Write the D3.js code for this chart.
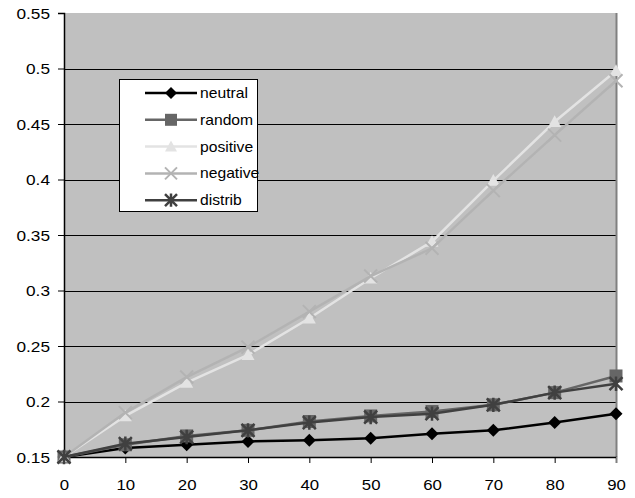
<!DOCTYPE html>
<html>
<head>
<meta charset="utf-8">
<script src="https://cdn.jsdelivr.net/npm/d3@7"></script>
<style>
  body { margin: 0; background: #fff; }
  svg text { font-family: "Liberation Sans", Arial, sans-serif; fill: #000; }
</style>
</head>
<body>
<svg id="chart" width="635" height="498"></svg>
<script>
const xValues = [0, 10, 20, 30, 40, 50, 60, 70, 80, 90];
const yTicks = [0.15, 0.2, 0.25, 0.3, 0.35, 0.4, 0.45, 0.5, 0.55];

const neutral = [0.15, 0.158, 0.161, 0.164, 0.165, 0.167, 0.171, 0.174, 0.181, 0.189];
const random = [0.15, 0.161, 0.169, 0.174, 0.182, 0.187, 0.191, 0.197, 0.208, 0.223];
const positive = [0.15, 0.187, 0.217, 0.242, 0.275, 0.311, 0.344, 0.399, 0.452, 0.498];
const negative = [0.15, 0.19, 0.222, 0.249, 0.281, 0.313, 0.338, 0.39, 0.44, 0.489];
const distrib = [0.15, 0.162, 0.168, 0.174, 0.181, 0.186, 0.189, 0.197, 0.208, 0.216];

const seriesNames = ["neutral", "random", "positive", "negative", "distrib"];
const seriesData = [neutral, random, positive, negative, distrib];
const seriesColors = ["#000000", "#666666", "#e3e3e3", "#b3b3b3", "#404040"];
const seriesMarkers = ["diamond", "square", "triangle", "cross", "star"];

const svg = d3.select("#chart");
const plotLeft = 64, plotRight = 616, plotTop = 13, plotBottom = 457;

const x = d3.scaleLinear().domain([0, 90]).range([plotLeft, plotRight]);
const y = d3.scaleLinear().domain([0.15, 0.55]).range([plotBottom, plotTop]);

// plot area
svg.append("rect")
  .attr("x", plotLeft).attr("y", plotTop)
  .attr("width", plotRight - plotLeft).attr("height", plotBottom - plotTop)
  .attr("fill", "#c0c0c0");

// gridlines
svg.append("g").selectAll("line")
  .data(yTicks.filter((d) => d > 0.15 && d < 0.55))
  .enter().append("line")
  .attr("x1", plotLeft).attr("x2", plotRight)
  .attr("y1", (d) => Math.round(y(d)) + 0.5).attr("y2", (d) => Math.round(y(d)) + 0.5)
  .attr("stroke", "#000").attr("stroke-width", 1);

// right border
svg.append("line")
  .attr("x1", plotRight + 0.5).attr("x2", plotRight + 0.5)
  .attr("y1", plotTop).attr("y2", plotBottom)
  .attr("stroke", "#808080").attr("stroke-width", 2);

// axes
const yAxis = d3.axisLeft(y).tickValues(yTicks).tickSize(6).tickFormat((d) => String(+d.toFixed(2)));
const xAxis = d3.axisBottom(x).tickValues(xValues).tickSize(6).tickFormat((d) => d);

const gy = svg.append("g").attr("transform", `translate(${plotLeft},0)`).call(yAxis);
const gx = svg.append("g").attr("transform", `translate(0,${plotBottom})`).call(xAxis);
[gy, gx].forEach((g) => {
  g.select(".domain").attr("stroke", "#000").attr("stroke-width", 1.5);
  g.selectAll(".tick line").attr("stroke", "#000");
  g.selectAll("text").attr("font-size", 15).attr("fill", "#000");
});
gx.select(".tick:last-of-type line").attr("stroke", "#808080");
gy.selectAll(".tick text")
  .attr("x", 0).attr("dy", "0.35em")
  .attr("transform", "translate(-14,0) scale(1.15,1)");
gx.selectAll(".tick text")
  .attr("y", 0).attr("dy", 0)
  .attr("transform", "translate(0,33) scale(1.12,1)");

// markers
const markerPath = (type, s) => {
  const p = d3.path();
  if (type === "diamond") {
    p.moveTo(0, -s); p.lineTo(s, 0); p.lineTo(0, s); p.lineTo(-s, 0); p.closePath();
  } else if (type === "square") {
    p.rect(-s, -s, s * 2, s * 2);
  } else if (type === "triangle") {
    p.moveTo(0, -s); p.lineTo(s, s * 0.8); p.lineTo(-s, s * 0.8); p.closePath();
  }
  return p.toString();
};

const drawMarker = (g, type, color, cx, cy, s) => {
  const m = g.append("g").attr("transform", `translate(${cx},${cy})`);
  if (type === "cross") {
    m.append("path").attr("d", `M${-s},${-s}L${s},${s}M${-s},${s}L${s},${-s}`)
      .attr("stroke", color).attr("stroke-width", 2).attr("fill", "none");
  } else if (type === "star") {
    m.append("path")
      .attr("d", `M${-s},${-s}L${s},${s}M${-s},${s}L${s},${-s}M0,${-s * 1.1}L0,${s * 1.1}`)
      .attr("stroke", color).attr("stroke-width", 2.5).attr("fill", "none");
  } else {
    m.append("path").attr("d", markerPath(type, s)).attr("fill", color);
  }
};

const line = d3.line().x((d, i) => x(xValues[i])).y((d) => y(d));

seriesData.forEach((values, k) => {
  const g = svg.append("g");
  g.append("path").datum(values)
    .attr("d", line)
    .attr("fill", "none")
    .attr("stroke", seriesColors[k])
    .attr("stroke-width", 2.5);
  values.forEach((v, i) => drawMarker(g, seriesMarkers[k], seriesColors[k], x(xValues[i]), y(v), 6.5));
});

// legend
const legend = svg.append("g");
legend.append("rect")
  .attr("x", 119.5).attr("y", 79.5).attr("width", 138).attr("height", 132)
  .attr("fill", "#fff").attr("stroke", "#000").attr("stroke-width", 1);

seriesNames.forEach((name, k) => {
  const ly = 93 + k * 26.8;
  legend.append("line")
    .attr("x1", 145).attr("x2", 197).attr("y1", ly).attr("y2", ly)
    .attr("stroke", seriesColors[k]).attr("stroke-width", 2.5);
  drawMarker(legend, seriesMarkers[k], seriesColors[k], 171, ly, 6);
  legend.append("text")
    .attr("transform", `translate(200,${ly + 5}) scale(1.12,1)`)
    .attr("font-size", 14)
    .text(name);
});
</script>
</body>
</html>
